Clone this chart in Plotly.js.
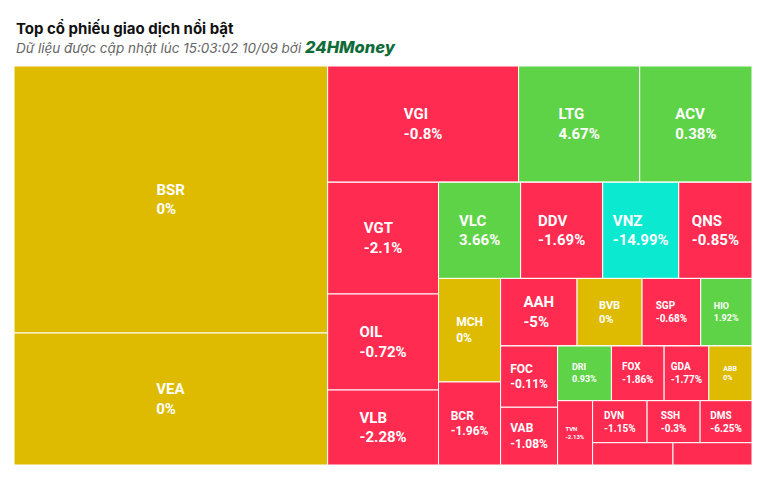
<!DOCTYPE html>
<html><head><meta charset="utf-8">
<script src="https://cdn.plot.ly/plotly-3.0.1.min.js"></script>
<style>html,body{margin:0;padding:0;background:#fff;}#chart{width:772px;height:481px;}</style>
</head><body><div id="chart"></div>
<script>
// ---- data ----
const tickers = ["BSR","VEA","VGI","LTG","ACV","VGT","OIL","VLB","VLC","DDV","VNZ","QNS","MCH","BCR","AAH","BVB","SGP","HIO","FOC","VAB","DRI","FOX","GDA","ABB","TVN","DVN","SSH","DMS","",""];
const tradeValues = [83700,41380,22190,14070,13050,12380,10640,8310,7890,7890,7310,7040,6420,5150,5160,4390,3960,3460,3490,3290,2940,2880,2440,2360,2250,2290,2230,2180,1790,1760];
const changes = [0,0,-0.8,4.67,0.38,-2.1,-0.72,-2.28,3.66,-1.69,-14.99,-0.85,0,-1.96,-5,0,-0.68,1.92,-0.11,-1.08,0.93,-1.86,-1.77,0,-2.13,-1.15,-0.3,-6.25,null,null];
// how many tickers sit in each successive strip of the alternating layout
const stripSizes = [2,3,3,4,2,4,2,4,1,3,2];

// ---- styles ----
const labelFontSizes = [15,15,15,15,15,15,15,15,15,15,15,15,12,12,15,11,10,9,12,12,9,10,10,7,6,10,10,10,8,8];
const RED="#FF2B50", GREEN="#5FD347", YELLOW="#DEBB00", CYAN="#0BE9D1";
function colorOf(c){
  if (c === null || c === undefined) return RED;
  if (c <= -14) return CYAN;
  if (c > 0) return GREEN;
  if (c < 0) return RED;
  return YELLOW;
}

const ids=[], labels=[], parents=[], values=[], colors=[], texts=[], sizes=[];
function addNode(id,label,parent,val,color,text,size){
  ids.push(id);labels.push(label);parents.push(parent);values.push(val);colors.push(color);texts.push(text);sizes.push(size);
}
addNode("root","","",0,"#ffffff","",10);
let k=0, container="root";
for (let s=0;s<stripSizes.length;s++){
  const gid="g"+s;
  addNode(gid,"",container,0,"#ffffff","",10);
  for (let j=0;j<stripSizes[s];j++,k++){
    const t = tickers[k];
    addNode("t"+k, t || ("x"+k), gid, tradeValues[k], colorOf(changes[k]),
            t ? (t+"<br>"+changes[k]+"%") : "", labelFontSizes[k]);
  }
  if (s < stripSizes.length-2){
    const rid="r"+s;
    addNode(rid,"",container,0,"#ffffff","",10);
    container=rid;
  }
}

const trace = {
  type:'treemap', ids, labels, parents, values, text:texts,
  textinfo:'text', branchvalues:'remainder', sort:false,
  tiling:{packing:'slice-dice', pad:0},
  marker:{colors, line:{color:'#ffffff', width:1}, pad:{t:0,l:0,r:0,b:0}},
  pathbar:{visible:false},
  textposition:'middle center',
  textfont:{family:'Roboto', size:sizes, color:'#ffffff', weight:'bold'},
  hoverinfo:'none'
};

const layout = {
  width:772, height:481,
  margin:{l:14, r:20, t:66, b:16},
  paper_bgcolor:'#ffffff',
  showlegend:false,
  annotations:[
    {text:"<b>Top cổ phiếu giao dịch nổi bật</b>", xref:'paper', yref:'paper', x:0, y:1.0928, xanchor:'left', yanchor:'middle', showarrow:false,
     font:{family:'Inter', size:15, color:'#111111'}},
    {text:"<i>Dữ liệu được cập nhật lúc 15:03:02 10/09 bởi </i><span style='color:#0f6b38;font-size:16.5px;font-weight:800'><i>24HMoney</i></span>",
     xref:'paper', yref:'paper', x:0, y:1.0464, xanchor:'left', yanchor:'middle', showarrow:false,
     font:{family:'Inter', size:13.5, color:'#666666'}}
  ]
};
Plotly.newPlot('chart',[trace],layout,{displayModeBar:false, staticPlot:true}).then(function(gd){
  // left-align the two label lines inside their centred block
  gd.querySelectorAll('text.slicetext').forEach(function(t){
    const lines = t.querySelectorAll('tspan.line');
    if (lines.length < 2) return;
    const bb = t.getBBox();
    t.setAttribute('text-anchor','start');
    lines.forEach(function(l){ l.setAttribute('x', bb.x); });
  });
});
</script>
</body></html>
